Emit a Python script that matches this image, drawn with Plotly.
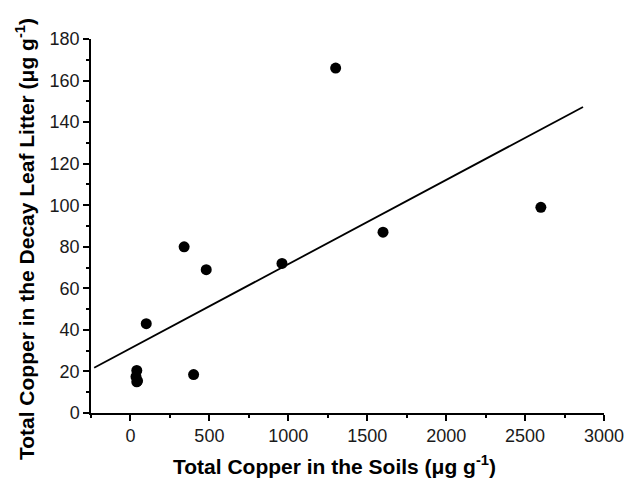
import plotly.graph_objects as go

soil_cu = [1300, 2600, 1600, 960, 480, 340, 100, 400, 40, 35, 45, 40]
litter_cu = [166, 99, 87, 72, 69, 80, 43, 18.5, 20.5, 17.5, 15.5, 15]

fit_x = [-230, 2867]
fit_y = [21.8, 147.3]

x_ticks = [0, 500, 1000, 1500, 2000, 2500, 3000]
y_ticks = [0, 20, 40, 60, 80, 100, 120, 140, 160, 180]

x_title = "<b>Total Copper in the Soils (μg g<sup>-1</sup>)</b>"
y_title = "<b>Total Copper in the Decay Leaf Litter (μg g<sup>-1</sup>)</b>"

fig = go.Figure()
fig.add_trace(go.Scatter(x=fit_x, y=fit_y, mode="lines",
                         line=dict(color="black", width=1.8), showlegend=False))
fig.add_trace(go.Scatter(x=soil_cu, y=litter_cu, mode="markers",
                         marker=dict(color="black", size=11), showlegend=False))

font = "Liberation Sans, Arial, sans-serif"
fig.update_layout(
    width=627, height=479,
    margin=dict(l=91, r=23, t=39, b=66),
    paper_bgcolor="white", plot_bgcolor="white",
    font=dict(family=font, color="black", size=18),
)
axis_common = dict(
    showline=True, linecolor="black", linewidth=1.5, showgrid=False, zeroline=False,
    ticks="outside", ticklen=6, tickwidth=1.5, tickcolor="black",
    tickfont=dict(size=18, color="#1a1a1a"), automargin=False,
)
fig.update_xaxes(
    range=[-250, 3000], tickvals=x_ticks, ticktext=[str(v) for v in x_ticks],
    minor=dict(dtick=250, tick0=0, ticks="outside", ticklen=3, tickwidth=1.5, tickcolor="black"),
    **axis_common,
)
fig.update_yaxes(
    range=[0, 180], tickvals=y_ticks, ticktext=[str(v) for v in y_ticks],
    minor=dict(dtick=10, tick0=0, ticks="outside", ticklen=3, tickwidth=1.5, tickcolor="black"),
    **axis_common,
)
fig.add_annotation(text=x_title, xref="paper", yref="paper", x=0.4737, y=-0.139,
                   xanchor="center", yanchor="middle", showarrow=False,
                   font=dict(size=21, family=font, color="black"))
fig.add_annotation(text=y_title, xref="paper", yref="paper", x=-0.1287, y=0.465,
                   xanchor="center", yanchor="middle", showarrow=False, textangle=-90,
                   font=dict(size=21, family=font, color="black"))
fig.write_html("out.html")
